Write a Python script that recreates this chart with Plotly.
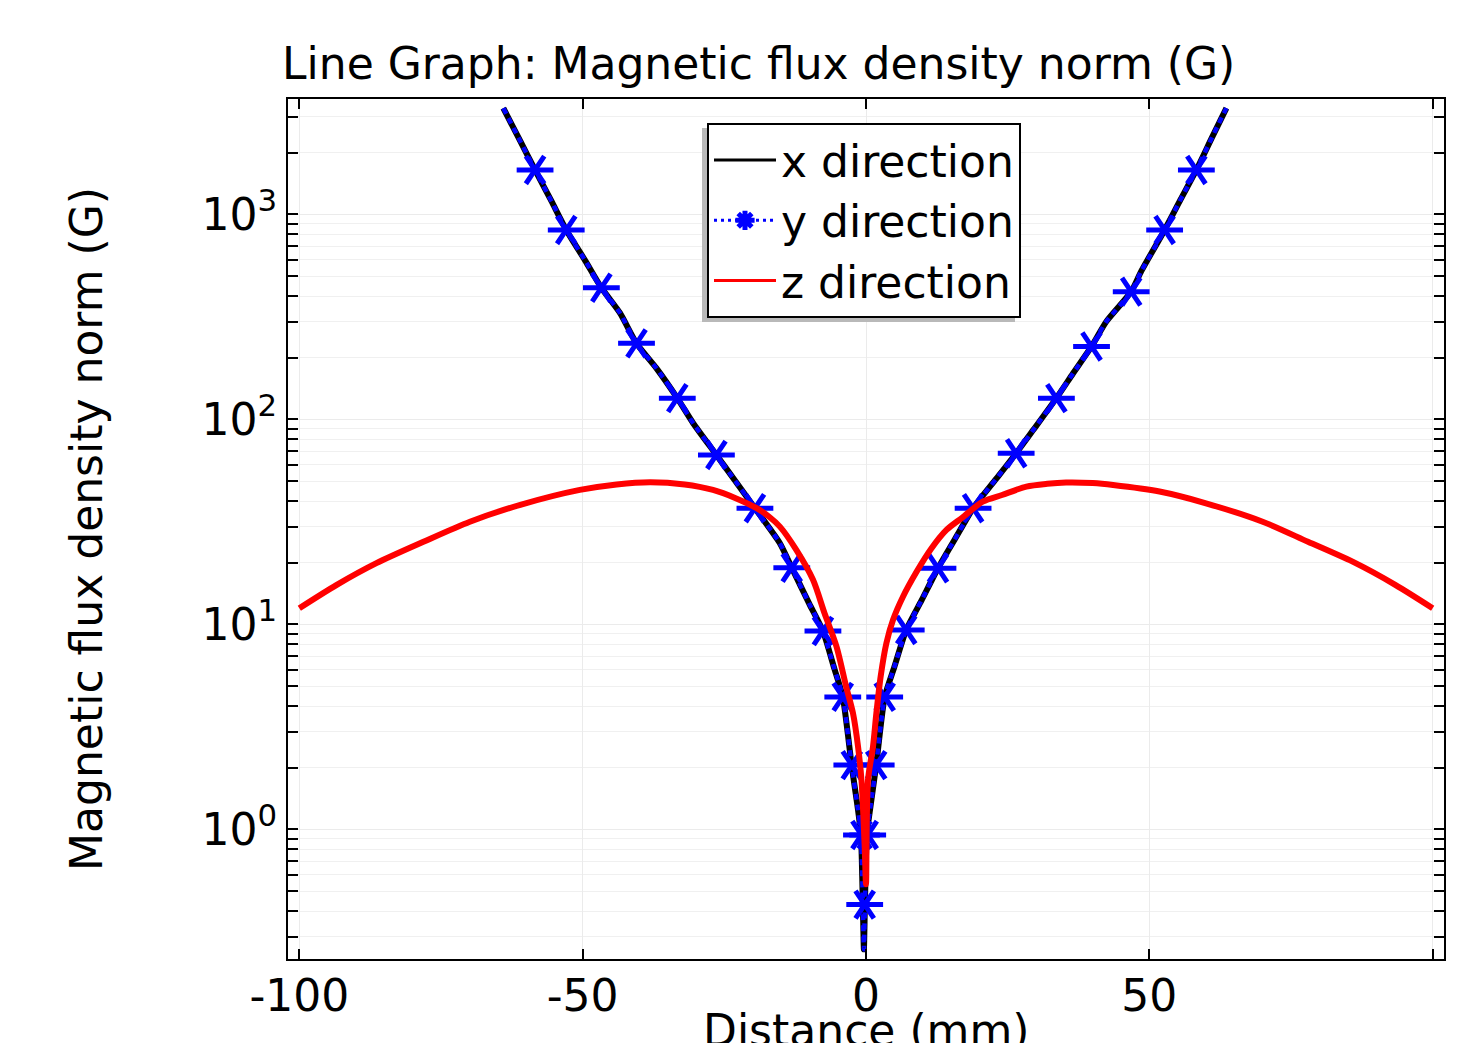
import plotly.graph_objects as go

# ---------------- data ----------------
# x direction (black solid) – distance (mm) and |B| (G)
xdir_x = [-64.0, -61.0, -58.4, -55.5, -52.9, -49.5, -46.7, -43.4, -40.5, -37.0,
          -33.3, -30.5, -26.4, -23.0, -19.6, -15.2, -13.1, -10.0, -7.6, -5.6,
          -4.1, -2.5, -1.5, -0.9, -0.55, -0.37, -0.2, 0.15, 0.8, 1.8,
          3.3, 5.0, 7.1, 9.8, 12.7, 15.7, 18.9, 23.0, 26.5, 29.5,
          33.6, 36.5, 39.8, 42.4, 46.8, 48.6, 52.7, 55.5, 58.3, 61.0, 63.6]
xdir_y = [3300, 2275, 1648, 1160, 840, 592, 439, 330, 235, 178,
          127, 95.8, 67.1, 49.8, 36.9, 24.9, 18.9, 12.6, 9.29, 6.1,
          4.43, 2.02, 1.3, 0.95, 0.42, 0.26, 0.42, 0.95, 1.3, 2.06,
          4.43, 6.2, 9.40, 13.1, 18.8, 26.1, 36.9, 51.4, 68.4, 88.7,
          127, 167, 227, 300, 420, 530, 840, 1180, 1648, 2355, 3300]

# y direction (blue dotted, asterisk markers) – coincides with the x direction curve
ydir_x = list(xdir_x)
ydir_y = list(xdir_y)
ymark_x = [-58.4, -52.9, -46.7, -40.5, -33.3, -26.4, -19.6, -13.1, -7.6, -4.1,
           -2.5, -0.8, -0.23, 0.3, 1.8, 3.3, 7.1, 12.7, 18.9, 26.5,
           33.6, 39.8, 46.8, 52.7, 58.3]
ymark_y = [1648, 840, 439, 235, 127, 67.1, 36.9, 18.9, 9.29, 4.43,
           2.06, 0.94, 0.43, 0.94, 2.06, 4.43, 9.40, 18.8, 36.9, 68.4,
           127, 227, 420, 840, 1648]

# z direction (red solid)
zdir_x = [-100, -93.4, -86.4, -78.1, -69.9, -61.0, -50.5, -44.0, -38.1, -32.0,
          -27.0, -23.0, -19.3, -17.2, -15.2, -12.3, -9.35, -7.3, -5.2, -3.5,
          -2.3, -1.4, -0.8, -0.23, 0.0, 0.35, 1.23, 1.83, 2.6, 3.6,
          4.76, 6.5, 8.9, 11.5, 14.2, 17.0, 20.6, 24.0, 28.3, 32.0,
          35.3, 40.0, 43.6, 51.8, 60.0, 70.0, 78.0, 86.4, 93.4, 100]
zdir_y = [12.0, 15.6, 19.9, 25.3, 31.7, 38.3, 45.3, 48.2, 49.4, 48.2,
          45.3, 41.3, 36.9, 33.7, 30.0, 23.1, 16.5, 11.3, 7.8, 4.97,
          3.69, 2.53, 1.74, 0.82, 0.54, 1.74, 2.53, 3.69, 5.6, 8.1,
          10.5, 13.6, 18.0, 23.4, 28.9, 33.2, 39.7, 42.8, 47.0, 48.5,
          49.2, 48.9, 47.9, 44.5, 39.0, 31.7, 25.3, 19.9, 15.6, 12.0]

series_names = ["x direction", "y direction", "z direction"]
x_tickvals = [-100, -50, 0, 50, 100]
x_ticktext = ["-100", "-50", "0", "50", ""]
y_tickvals = [1, 10, 100, 1000]
y_ticktext = ["10<sup>0</sup>", "10<sup>1</sup>", "10<sup>2</sup>", "10<sup>3</sup>"]
title_text = "Line Graph: Magnetic flux density norm (G)"
x_title = "Distance (mm)"
y_title = "Magnetic flux density norm (G)"

# ---------------- figure ----------------
FONT = "DejaVu Sans"
BLUE = "rgb(0,0,255)"
RED = "rgb(255,0,0)"

fig = go.Figure()
fig.add_trace(go.Scatter(x=xdir_x, y=xdir_y, mode="lines", showlegend=False,
                         line=dict(color="black", width=6, shape="spline", smoothing=0.6)))
fig.add_trace(go.Scatter(x=ydir_x, y=ydir_y, mode="lines", showlegend=False,
                         line=dict(color=BLUE, width=4.5, dash="6px,5px",
                                   shape="spline", smoothing=0.6)))
for sym in ["y-left-open", "y-right-open"]:
    fig.add_trace(go.Scatter(x=ymark_x, y=ymark_y, mode="markers", showlegend=False,
                             marker=dict(symbol=sym, size=23, color=BLUE,
                                         line=dict(color=BLUE, width=5))))
fig.add_trace(go.Scatter(x=zdir_x, y=zdir_y, mode="lines", showlegend=False,
                         line=dict(color=RED, width=6, shape="spline", smoothing=0.8)))

# legend entries
fig.add_trace(go.Scatter(x=[None], y=[None], mode="lines", name=series_names[0],
                         line=dict(color="black", width=3)))
fig.add_trace(go.Scatter(x=[None], y=[None], mode="lines+markers", name=series_names[1],
                         line=dict(color=BLUE, width=3, dash="3px,4px"),
                         marker=dict(symbol="asterisk-open", size=18, color=BLUE,
                                     line=dict(color=BLUE, width=5))))
fig.add_trace(go.Scatter(x=[None], y=[None], mode="lines", name=series_names[2],
                         line=dict(color=RED, width=3)))

minor_vals = [m * 10.0 ** e for e in range(-1, 4) for m in range(2, 10)]

L, R, T, B = 288, 32, 99, 84
W, H = 1476, 1043
pw, ph = W - L - R, H - T - B

def px_to_paper_x(px):
    return (px - L) / pw

def px_to_paper_y(py):
    return (H - B - py) / ph

fig.update_layout(
    width=W, height=H,
    margin=dict(l=L, r=R, t=T, b=B, pad=0),
    paper_bgcolor="white", plot_bgcolor="white",
    font=dict(family=FONT, size=44, color="black"),
    title=dict(text=title_text, x=282 / W, xref="container", xanchor="left",
               y=1 - 64 / H, yref="container", yanchor="middle",
               font=dict(family=FONT, size=44, color="black")),
    legend=dict(x=px_to_paper_x(707), y=px_to_paper_y(123), xanchor="left", yanchor="top",
                bgcolor="white", bordercolor="black", borderwidth=2,
                font=dict(family=FONT, size=44, color="black"),
                itemwidth=62, tracegroupgap=0),
    shapes=[dict(type="rect", xref="paper", yref="paper",
                 x0=px_to_paper_x(702), x1=px_to_paper_x(1015),
                 y0=px_to_paper_y(322), y1=px_to_paper_y(128),
                 fillcolor="rgb(185,185,185)", line=dict(width=0), layer="above")],
    annotations=[dict(text=x_title, xref="paper", yref="paper",
                      x=0.5, y=px_to_paper_y(1003), xanchor="center", yanchor="top",
                      showarrow=False, font=dict(family=FONT, size=44, color="black"))],
)

fig.update_xaxes(
    range=[-102, 102], tickmode="array", tickvals=x_tickvals, ticktext=x_ticktext,
    ticks="inside", ticklen=10, tickwidth=2, tickcolor="black",
    showline=True, linecolor="black", linewidth=2, mirror="allticks",
    showgrid=True, gridcolor="rgb(235,235,235)", gridwidth=1, zeroline=False,
    tickfont=dict(family=FONT, size=44, color="black"), ticklabelstandoff=-3,
    automargin=False,
)
fig.update_yaxes(
    type="log", range=[-0.632, 3.563], tickmode="array", tickvals=y_tickvals, ticktext=y_ticktext,
    ticks="inside", ticklen=10, tickwidth=2, tickcolor="black",
    showline=True, linecolor="black", linewidth=2, mirror="allticks",
    showgrid=True, gridcolor="rgb(235,235,235)", gridwidth=1, zeroline=False,
    minor=dict(tickmode="array", tickvals=minor_vals, ticks="inside", ticklen=10,
               tickwidth=2, tickcolor="black", showgrid=True,
               gridcolor="rgb(240,240,240)", gridwidth=1),
    tickfont=dict(family=FONT, size=44, color="black"),
    title=dict(text=y_title, font=dict(family=FONT, size=44, color="black"), standoff=85),
    automargin=False,
)

fig.write_html("out.html")
